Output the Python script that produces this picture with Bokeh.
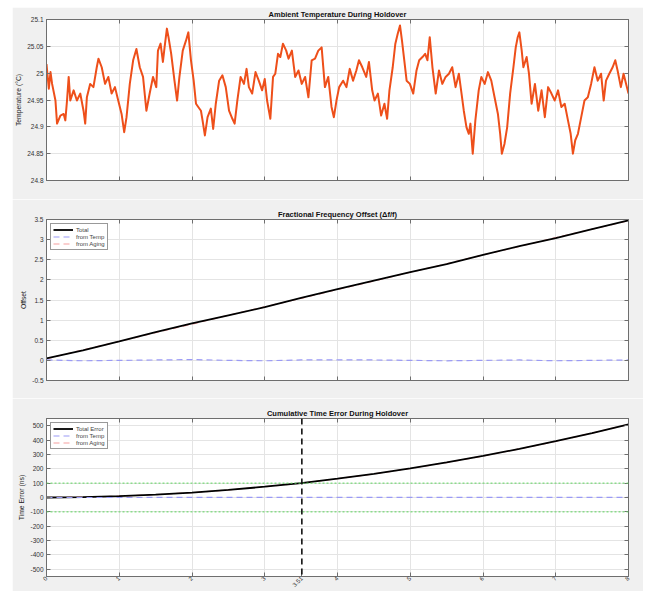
import math
from bokeh.plotting import figure
from bokeh.layouts import column
from bokeh.models import (Range1d, FixedTicker, PrintfTickFormatter, LinearAxis,
                          Span, Label, Legend, LegendItem)
from bokeh.embed import file_html
from bokeh.resources import INLINE

# ---------------- data ----------------
# elapsed holdover time (hours) and ambient temperature (degC)
temp_hours = [
    0.000, 0.032, 0.055, 0.077, 0.123, 0.145, 0.191, 0.236, 0.259, 0.282, 0.305, 0.327,
    0.373, 0.418, 0.464, 0.509, 0.532, 0.555, 0.600, 0.645, 0.691, 0.714, 0.759, 0.805,
    0.850, 0.895, 0.941, 0.986, 1.032, 1.068, 1.100, 1.145, 1.191, 1.236, 1.282, 1.327,
    1.373, 1.418, 1.464, 1.509, 1.532, 1.568, 1.600, 1.623, 1.655, 1.677, 1.714, 1.759,
    1.795, 1.827, 1.873, 1.918, 1.950, 1.986, 2.023, 2.055, 2.086, 2.123, 2.145, 2.177,
    2.214, 2.259, 2.291, 2.327, 2.373, 2.418, 2.464, 2.509, 2.555, 2.586, 2.623, 2.668,
    2.714, 2.750, 2.782, 2.827, 2.873, 2.918, 2.964, 3.000, 3.032, 3.077, 3.114, 3.145,
    3.182, 3.214, 3.250, 3.295, 3.327, 3.373, 3.418, 3.464, 3.509, 3.555, 3.600, 3.645,
    3.691, 3.736, 3.782, 3.827, 3.873, 3.918, 3.950, 3.986, 4.023, 4.077, 4.123, 4.168,
    4.214, 4.259, 4.295, 4.341, 4.395, 4.432, 4.477, 4.509, 4.555, 4.600, 4.645, 4.682,
    4.714, 4.759, 4.795, 4.827, 4.859, 4.886, 4.918, 4.950, 4.995, 5.041, 5.086, 5.123,
    5.168, 5.205, 5.236, 5.268, 5.305, 5.350, 5.395, 5.441, 5.486, 5.532, 5.577, 5.623,
    5.668, 5.705, 5.736, 5.773, 5.805, 5.827, 5.859, 5.895, 5.941, 5.977, 6.023, 6.068,
    6.114, 6.159, 6.205, 6.236, 6.259, 6.295, 6.332, 6.373, 6.418, 6.450, 6.477, 6.500,
    6.532, 6.555, 6.600, 6.632, 6.668, 6.714, 6.759, 6.805, 6.850, 6.895, 6.941, 6.986,
    7.032, 7.077, 7.123, 7.168, 7.205, 7.236, 7.268, 7.305, 7.350, 7.395, 7.441, 7.486,
    7.532, 7.577, 7.623, 7.659, 7.691, 7.736, 7.782, 7.818, 7.850, 7.895, 7.932, 8.000,
]
temp_degc = [
    25.017, 24.971, 25.002, 24.980, 24.949, 24.906, 24.921, 24.924, 24.912, 24.949, 24.993, 24.949,
    24.968, 24.949, 24.962, 24.930, 24.906, 24.955, 24.980, 24.974, 25.011, 25.027, 25.011, 24.980,
    24.993, 24.962, 24.974, 24.949, 24.924, 24.890, 24.918, 24.980, 25.024, 25.045, 25.011, 24.993,
    24.930, 24.962, 24.993, 24.974, 25.042, 25.055, 25.021, 25.048, 25.083, 25.067, 25.036, 24.986,
    24.949, 24.993, 25.042, 25.061, 25.076, 25.024, 24.986, 24.943, 24.937, 24.930, 24.912, 24.884,
    24.918, 24.934, 24.896, 24.943, 24.986, 24.996, 24.974, 24.930, 24.915, 24.906, 24.949, 24.993,
    24.980, 25.008, 24.974, 24.962, 25.002, 24.986, 24.968, 24.989, 24.949, 24.915, 24.993, 24.999,
    25.036, 25.030, 25.055, 25.042, 25.027, 25.042, 24.993, 25.005, 24.980, 24.993, 24.955, 25.024,
    25.027, 25.042, 25.048, 24.974, 24.993, 24.937, 24.918, 24.949, 24.974, 24.986, 24.974, 25.008,
    24.986, 25.005, 25.024, 25.011, 24.993, 25.021, 24.968, 24.949, 24.962, 24.921, 24.943, 24.915,
    24.968, 25.011, 25.055, 25.073, 25.089, 25.061, 25.024, 24.986, 24.980, 24.962, 25.005, 25.024,
    25.030, 25.036, 25.024, 25.067, 25.011, 24.962, 25.005, 24.980, 24.993, 24.999, 25.011, 24.974,
    24.999, 24.962, 24.930, 24.899, 24.887, 24.906, 24.850, 24.912, 24.968, 24.993, 24.980, 25.002,
    24.986, 24.955, 24.924, 24.887, 24.850, 24.868, 24.899, 24.962, 25.011, 25.048, 25.067, 25.076,
    25.042, 25.011, 25.030, 24.999, 24.943, 24.980, 24.930, 24.968, 24.918, 24.974, 24.962, 24.949,
    24.968, 24.937, 24.943, 24.912, 24.887, 24.850, 24.875, 24.887, 24.918, 24.949, 24.955, 24.980,
    25.011, 24.986, 24.999, 24.949, 24.986, 24.999, 25.011, 25.024, 25.005, 24.974, 24.999, 24.962,
]

# fractional frequency offset, in units of 1e-11
offset_hours = [0.0, 0.5, 1.0, 1.5, 2.0, 2.5, 3.0, 3.5, 4.0, 4.5, 5.0, 5.5, 6.0, 6.5, 7.0, 7.5, 8.0]
offset_aging = [0.04, 0.26, 0.47, 0.69, 0.90, 1.12, 1.33, 1.54, 1.76, 1.97, 2.19, 2.40, 2.62, 2.83, 3.05, 3.26, 3.47]
offset_temp = [0.01, -0.01, 0.00, 0.01, 0.02, 0.00, -0.01, 0.01, 0.01, 0.01, 0.00, -0.01, 0.00, 0.01, -0.01, 0.00, 0.01]

# cumulative time error (ns)
error_hours = [0.0, 0.5, 1.0, 1.5, 2.0, 2.5, 3.0, 3.5, 4.0, 4.5, 5.0, 5.5, 6.0, 6.5, 7.0, 7.5, 8.0]
error_aging = [0.0, 2.8, 9.4, 20.0, 34.4, 52.6, 74.7, 99.1, 130.4, 164.2, 201.8, 243.4, 288.8, 338.1, 391.2, 448.2, 509.0]
error_temp = [0.0, 0.1, 0.1, 0.2, 0.2, 0.3, 0.4, 0.5, 0.6, 0.6, 0.7, 0.6, 0.6, 0.6, 0.7, 0.7, 0.8]

limit_ns = 100
crossing_hours = 3.51

hour_ticks = [0, 1, 2, 3, 4, 5, 6, 7, 8]
temp_ticks = [24.8, 24.85, 24.9, 24.95, 25.0, 25.05, 25.1]
offset_ticks = [-0.5, 0, 0.5, 1, 1.5, 2, 2.5, 3, 3.5]
error_ticks = [-500, -400, -300, -200, -100, 0, 100, 200, 300, 400, 500]

# ---------------- styling ----------------
FONT = "Liberation Sans"
BG = "#f0f0f0"
AX = "#6e6e6e"
GRID = "#e4e4e4"
TXT = "#333333"
TEMP_COLOR = "#ee4f1a"
BLUE = "#9a9af5"
PINK = "#f5a0a0"


def style_axis(ax, show_labels):
    ax.major_tick_in = 4
    ax.major_tick_out = 0
    ax.minor_tick_line_color = None
    ax.axis_line_color = AX
    ax.major_tick_line_color = AX
    ax.major_label_text_font = FONT
    ax.axis_label_text_font = FONT
    ax.axis_label_text_font_size = "6.8px"
    ax.axis_label_text_font_style = "normal"
    ax.axis_label_text_color = "#222222"
    if show_labels:
        ax.major_label_text_font_size = "6.5px"
        ax.major_label_text_color = TXT
        ax.major_label_standoff = 3
    else:
        # tick marks only
        ax.major_label_text_font_size = "1px"
        ax.major_label_text_color = None
        ax.major_label_standoff = 0


def make_panel(height, yr, yticks, ylabel, title, top, bottom):
    p = figure(width=631, height=height, output_backend="svg", toolbar_location=None,
               x_range=Range1d(0, 8), y_range=Range1d(*yr),
               min_border_left=32, min_border_right=15,
               min_border_top=top, min_border_bottom=bottom,
               background_fill_color="white", border_fill_color=BG,
               outline_line_color=AX)
    p.xgrid.ticker = FixedTicker(ticks=hour_ticks)
    p.ygrid.ticker = FixedTicker(ticks=yticks)
    p.grid.grid_line_color = GRID
    p.grid.grid_line_width = 1

    left = p.left[0]
    below = p.below[0]
    style_axis(left, True)
    style_axis(below, False)
    left.ticker = FixedTicker(ticks=yticks)
    left.formatter = PrintfTickFormatter(format="%g")
    left.axis_label = ylabel
    left.axis_label_standoff = 2

    below.ticker = FixedTicker(ticks=hour_ticks)

    right = LinearAxis(ticker=FixedTicker(ticks=yticks))
    style_axis(right, False)
    p.add_layout(right, "right")
    above = LinearAxis(ticker=FixedTicker(ticks=hour_ticks))
    style_axis(above, False)
    p.add_layout(above, "above")

    p.title.text = title
    p.title.align = "center"
    p.title.text_font = FONT
    p.title.text_font_size = "7.5px"
    p.title.text_font_style = "bold"
    p.title.text_color = "#111111"
    p.title.standoff = 1
    p.title.offset = 0
    return p, below


def make_legend(items):
    return Legend(items=items, location="top_left", margin=4, padding=2, spacing=0,
                  label_text_font=FONT, label_text_font_size="6px", label_height=7,
                  glyph_height=7, glyph_width=20, label_standoff=3,
                  border_line_color="#333333", border_line_width=0.8,
                  background_fill_color="white", background_fill_alpha=1)


# ---------------- panel 1: ambient temperature ----------------
p1, _ = make_panel(192, (24.8, 25.1), temp_ticks, "Temperature (°C)",
                   "Ambient Temperature During Holdover", 12, 19)
p1.line(temp_hours, temp_degc, line_color=TEMP_COLOR, line_width=2.0,
        line_join="round")

# ---------------- panel 2: fractional frequency offset ----------------
offset_total = [a + b for a, b in zip(offset_aging, offset_temp)]
p2, _ = make_panel(199, (-0.5, 3.5), offset_ticks, "Offset",
                   "Fractional Frequency Offset (\u0394f/f)", 20, 18)
r_ag = p2.line(offset_hours, offset_aging, line_color=PINK, line_width=1.2, line_dash="6 4")
r_tot = p2.line(offset_hours, offset_total, line_color="black", line_width=1.8)
r_tmp = p2.line(offset_hours, offset_temp, line_color=BLUE, line_width=1.2, line_dash="6 4")
p2.add_layout(Label(x=0, y=3.5, text="\u00d710\u207b\u00b9\u00b9", text_align="left",
                    text_baseline="bottom", y_offset=1, text_font=FONT,
                    text_font_size="5.5px", text_color=TXT))
p2.add_layout(make_legend([LegendItem(label="Total", renderers=[r_tot]),
                           LegendItem(label="from Temp", renderers=[r_tmp]),
                           LegendItem(label="from Aging", renderers=[r_ag])]))

# ---------------- panel 3: cumulative time error ----------------
error_total = [a + b for a, b in zip(error_aging, error_temp)]
p3, x3 = make_panel(193, (-550, 550), error_ticks, "Time Error (ns)",
                    "Cumulative Time Error During Holdover", 20, 12)
for lvl in (limit_ns, -limit_ns):
    p3.add_layout(Span(location=lvl, dimension="width", line_color="#5cd65c",
                       line_dash="2 2", line_width=1))
r3_ag = p3.line(error_hours, error_aging, line_color=PINK, line_width=1.2, line_dash="6 4")
r3_tot = p3.line(error_hours, error_total, line_color="black", line_width=1.8)
r3_tmp = p3.line(error_hours, error_temp, line_color=BLUE, line_width=1.2, line_dash="6 4")
p3.add_layout(Span(location=crossing_hours, dimension="height", line_color="#111111",
                   line_dash="6 4", line_width=1.6))
x3.ticker = FixedTicker(ticks=sorted(hour_ticks + [crossing_hours]))
x3.formatter = PrintfTickFormatter(format="%g")
x3.major_label_text_font_size = "6px"
x3.major_label_text_color = TXT
x3.major_label_standoff = 1
x3.major_label_orientation = math.pi / 4
p3.add_layout(make_legend([LegendItem(label="Total Error", renderers=[r3_tot]),
                           LegendItem(label="from Temp", renderers=[r3_tmp]),
                           LegendItem(label="from Aging", renderers=[r3_ag])]))

layout = column(p1, p2, p3, spacing=0, margin=(7, 0, 0, 12))
open("out.html", "w").write(file_html(layout, INLINE))
